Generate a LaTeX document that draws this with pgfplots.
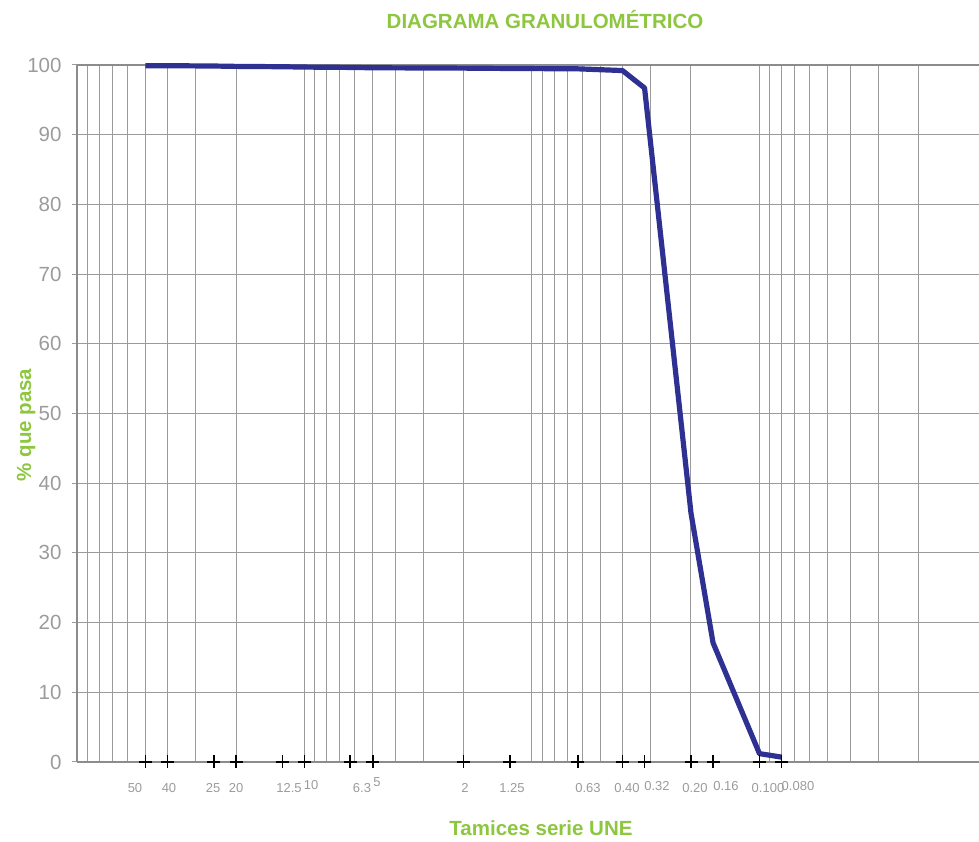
\documentclass[border=0pt]{standalone}
\usepackage{pgfplots}
\pgfplotsset{compat=1.18}
\usepackage{fontspec}
\setmainfont{Liberation Sans}
\definecolor{verde}{RGB}{141,198,63}
\definecolor{azul}{RGB}{46,49,146}
\definecolor{gristxt}{RGB}{155,155,155}
\definecolor{grisgrid}{RGB}{155,155,155}
\definecolor{grisaxis}{RGB}{140,140,140}
\begin{document}
\begin{tikzpicture}
\useasboundingbox (-77pt,-80pt) rectangle (902pt,762pt);
\begin{axis}[
  at={(0pt,0pt)}, anchor=south west,
  scale only axis, width=902pt, height=697pt,
  xmode=log, x dir=reverse, xmin=0.01084, xmax=100,
  ymin=0, ymax=100,
  xtick={0.01,0.1,1,10,100}, xticklabels={},
  ytick={0,10,...,100},
  xmajorgrids, xminorgrids, ymajorgrids,
  major grid style={grisgrid, line width=1pt},
  minor grid style={grisgrid, line width=1pt},
  separate axis lines,
  axis x line*=box, axis y line*=left,
  axis line style={-, grisaxis, line width=2.8pt},
  xtick style={draw=none},
  minor tick length=0pt,
  ytick style={grisgrid, line width=1pt},
  ytick align=outside, major tick length=5pt,
  /pgf/number format/assume math mode=true,
  yticklabel style={font=\fontsize{20.5}{24}\selectfont, text=gristxt, xshift=-7pt},
  clip=false,
]
\addplot[azul, line width=5.2pt, line join=round] coordinates {
  (50,99.9) (40,99.9) (25,99.85) (20,99.8) (12.5,99.75) (10,99.7)
  (6.3,99.65) (5,99.6) (2,99.55) (1.25,99.5) (0.63,99.45) (0.40,99.2)
  (0.32,96.7) (0.20,35.7) (0.16,17.1) (0.100,1.2) (0.080,0.7)
};
\addplot[only marks, mark=+, mark size=6.5pt, mark options={line width=1.8pt, black}] coordinates {
  (50,0) (40,0) (25,0) (20,0) (12.5,0) (10,0) (6.3,0) (5,0) (2,0) (1.25,0)
  (0.63,0) (0.40,0) (0.32,0) (0.20,0) (0.16,0) (0.100,0) (0.080,0)
};
\end{axis}
\begin{scope}[every node/.style={font=\fontsize{13}{15}\selectfont, text=gristxt, inner sep=0pt}]
\foreach \lx/\ly/\lt in {58/-26/50, 92/-26/40, 136/-26/25, 159/-26/20, 212/-26/12.5, 234/-23/10,
  285/-26/6.3, 300/-20/5, 388/-26/2, 435/-26/1.25, 511/-26/0.63, 550/-26/0.40, 580/-24/0.32,
  618/-26/0.20, 649/-24/0.16, 691/-26/0.100, 721/-24/0.080}
  \node at (\lx pt,\ly pt) {\lt};
\end{scope}
\node[font=\fontsize{20.5}{24}\selectfont\bfseries, text=verde] at (468pt,742pt) {DIAGRAMA GRANULOMÉTRICO};
\node[font=\fontsize{20.5}{24}\selectfont\bfseries, text=verde] at (464pt,-66pt) {Tamices serie UNE};
\node[font=\fontsize{20.5}{24}\selectfont\bfseries, text=verde, rotate=90] at (-51pt,337pt) {\% que pasa};
\end{tikzpicture}
\end{document}
